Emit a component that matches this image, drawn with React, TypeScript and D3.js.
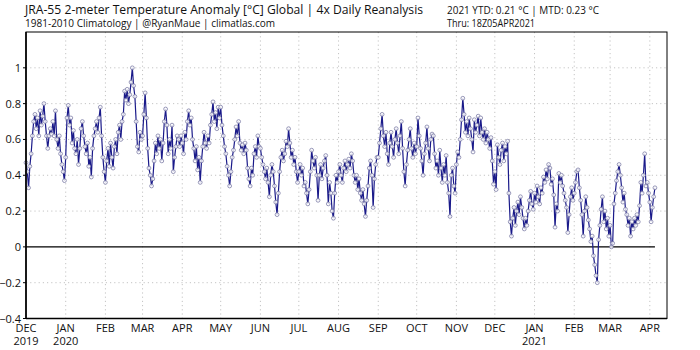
import React, { useEffect, useRef } from 'react';
import * as d3 from 'd3';

// daily global 2m temperature anomaly (°C), one array per month
const dec2019 = [0.47, 0.42, 0.33, 0.45, 0.52, 0.62, 0.70, 0.74, 0.66, 0.72, 0.62, 0.76, 0.68, 0.73, 0.80, 0.70, 0.62, 0.55, 0.62, 0.66, 0.63, 0.70, 0.62, 0.76, 0.60, 0.55, 0.62, 0.52, 0.46, 0.42, 0.37];
const jan2020 = [0.50, 0.72, 0.79, 0.68, 0.72, 0.58, 0.65, 0.55, 0.52, 0.60, 0.46, 0.55, 0.66, 0.70, 0.62, 0.56, 0.52, 0.58, 0.45, 0.50, 0.39, 0.55, 0.62, 0.66, 0.70, 0.64, 0.72, 0.78, 0.62, 0.50, 0.42];
const feb2020 = [0.36, 0.48, 0.55, 0.45, 0.58, 0.50, 0.44, 0.56, 0.60, 0.52, 0.64, 0.68, 0.60, 0.70, 0.74, 0.87, 0.82, 0.88, 0.80, 0.85, 0.92, 1.00, 0.90, 0.84, 0.70, 0.56, 0.53, 0.64, 0.60];
const mar2020 = [0.62, 0.74, 0.86, 0.72, 0.55, 0.44, 0.40, 0.34, 0.38, 0.48, 0.58, 0.52, 0.62, 0.55, 0.60, 0.48, 0.58, 0.70, 0.77, 0.68, 0.52, 0.60, 0.55, 0.68, 0.42, 0.50, 0.56, 0.62, 0.60, 0.56, 0.62];
const apr2020 = [0.58, 0.52, 0.64, 0.60, 0.70, 0.76, 0.68, 0.72, 0.60, 0.55, 0.48, 0.56, 0.43, 0.50, 0.36, 0.48, 0.56, 0.64, 0.58, 0.55, 0.62, 0.58, 0.68, 0.74, 0.81, 0.70, 0.75, 0.66, 0.78, 0.72];
const may2020 = [0.78, 0.68, 0.62, 0.56, 0.52, 0.45, 0.40, 0.34, 0.42, 0.50, 0.54, 0.60, 0.67, 0.62, 0.70, 0.58, 0.54, 0.57, 0.52, 0.58, 0.54, 0.44, 0.38, 0.34, 0.44, 0.40, 0.52, 0.56, 0.50, 0.62, 0.56];
const jun2020 = [0.55, 0.50, 0.46, 0.42, 0.38, 0.44, 0.36, 0.28, 0.40, 0.46, 0.42, 0.34, 0.25, 0.18, 0.30, 0.42, 0.50, 0.54, 0.48, 0.52, 0.59, 0.56, 0.66, 0.58, 0.50, 0.54, 0.46, 0.50, 0.42, 0.36];
const jul2020 = [0.42, 0.46, 0.40, 0.44, 0.34, 0.36, 0.30, 0.24, 0.32, 0.42, 0.54, 0.48, 0.44, 0.50, 0.40, 0.26, 0.40, 0.46, 0.38, 0.44, 0.48, 0.51, 0.40, 0.24, 0.36, 0.30, 0.20, 0.16, 0.30, 0.40, 0.36];
const aug2020 = [0.42, 0.46, 0.40, 0.36, 0.44, 0.48, 0.42, 0.46, 0.49, 0.44, 0.52, 0.48, 0.40, 0.36, 0.40, 0.32, 0.38, 0.30, 0.26, 0.32, 0.24, 0.17, 0.26, 0.34, 0.44, 0.48, 0.40, 0.22, 0.38, 0.46, 0.50];
const sep2020 = [0.50, 0.58, 0.66, 0.74, 0.62, 0.56, 0.64, 0.52, 0.46, 0.58, 0.64, 0.56, 0.50, 0.60, 0.66, 0.58, 0.52, 0.62, 0.70, 0.55, 0.42, 0.34, 0.46, 0.54, 0.60, 0.66, 0.55, 0.50, 0.58, 0.52];
const oct2020 = [0.56, 0.72, 0.62, 0.55, 0.48, 0.40, 0.52, 0.58, 0.67, 0.55, 0.48, 0.60, 0.63, 0.62, 0.52, 0.44, 0.48, 0.40, 0.54, 0.44, 0.36, 0.46, 0.40, 0.51, 0.36, 0.30, 0.17, 0.40, 0.44, 0.34, 0.30];
const nov2020 = [0.46, 0.53, 0.50, 0.60, 0.71, 0.83, 0.74, 0.64, 0.70, 0.62, 0.72, 0.66, 0.60, 0.53, 0.71, 0.64, 0.68, 0.73, 0.62, 0.72, 0.64, 0.60, 0.66, 0.58, 0.64, 0.60, 0.55, 0.61, 0.48, 0.35];
const dec2020 = [0.42, 0.32, 0.57, 0.50, 0.46, 0.54, 0.58, 0.48, 0.56, 0.52, 0.59, 0.30, 0.14, 0.06, 0.16, 0.22, 0.12, 0.20, 0.25, 0.18, 0.28, 0.22, 0.16, 0.10, 0.16, 0.12, 0.20, 0.26, 0.31, 0.24, 0.21];
const jan2021 = [0.30, 0.25, 0.34, 0.28, 0.24, 0.33, 0.30, 0.39, 0.36, 0.43, 0.38, 0.46, 0.44, 0.35, 0.38, 0.29, 0.11, 0.24, 0.20, 0.41, 0.36, 0.40, 0.34, 0.30, 0.26, 0.22, 0.08, 0.18, 0.28, 0.33, 0.26];
const feb2021 = [0.30, 0.36, 0.42, 0.43, 0.33, 0.26, 0.18, 0.06, 0.20, 0.28, 0.22, 0.15, 0.10, 0.03, 0.06, -0.05, -0.10, -0.16, -0.20, 0.04, 0.12, 0.21, 0.28, 0.14, 0.20, 0.10, 0.16, 0.06];
const mar2021 = [0.12, 0.00, 0.02, 0.24, 0.30, 0.37, 0.42, 0.46, 0.40, 0.33, 0.25, 0.30, 0.21, 0.18, 0.12, 0.16, 0.06, 0.14, 0.10, 0.16, 0.12, 0.18, 0.14, 0.23, 0.36, 0.30, 0.40, 0.52, 0.34, 0.36, 0.30];
const apr2021 = [0.25, 0.14, 0.22, 0.28, 0.33];

const monthly = [dec2019, jan2020, feb2020, mar2020, apr2020, may2020, jun2020, jul2020, aug2020, sep2020, oct2020, nov2020, dec2020, jan2021, feb2021, mar2021, apr2021];

const monthLabels = ['DEC', 'JAN', 'FEB', 'MAR', 'APR', 'MAY', 'JUN', 'JUL', 'AUG', 'SEP', 'OCT', 'NOV', 'DEC', 'JAN', 'FEB', 'MAR', 'APR'];
const yearLabels = ['2019', '2020', '', '', '', '', '', '', '', '', '', '', '', '2021', '', '', ''];
const yTicks = [-0.4, -0.2, 0, 0.2, 0.4, 0.6, 0.8, 1];

const title = 'JRA-55 2-meter Temperature Anomaly [°C] Global | 4x Daily Reanalysis';
const subtitle = '1981-2010 Climatology | @RyanMaue | climatlas.com';
const statsLine = '2021 YTD: 0.21 °C | MTD: 0.23 °C';
const thruLine = 'Thru: 18Z05APR2021';

const App = () => {
    const svgRef = useRef(null);

    useEffect(() => {
        const svg = d3.select(svgRef.current);
        svg.selectAll('*').remove();

        const font = '"Open Sans", "DejaVu Sans", sans-serif';
        const left = 26, right = 667, top = 32, bottom = 318.5;
        const start = new Date(Date.UTC(2019, 11, 1));

        // build daily series from monthly arrays
        const data = [];
        monthly.forEach((vals, m) => {
            const mStart = d3.utcMonth.offset(start, m);
            vals.forEach((v, i) => data.push({ date: d3.utcDay.offset(mStart, i), value: v }));
        });
        const monthStarts = monthLabels.map((_, i) => d3.utcMonth.offset(start, i));

        const x = d3.scaleUtc()
            .domain([start, new Date(Date.UTC(2021, 3, 14, 10))])
            .range([left, right]);
        const y = d3.scaleLinear().domain([-0.4, 1.2]).range([bottom, top]);

        svg.append('rect').attr('width', 700).attr('height', 350).attr('fill', 'white');

        // gridlines
        svg.append('g').selectAll('line')
            .data(yTicks.filter(t => t !== 0 && t !== -0.4))
            .enter().append('line')
            .attr('x1', left).attr('x2', right)
            .attr('y1', d => y(d)).attr('y2', d => y(d))
            .attr('stroke', '#c4c4c4').attr('stroke-dasharray', '1.2,3');
        svg.append('g').selectAll('line')
            .data(monthStarts.slice(1))
            .enter().append('line')
            .attr('x1', d => x(d)).attr('x2', d => x(d))
            .attr('y1', top).attr('y2', bottom)
            .attr('stroke', '#c4c4c4').attr('stroke-dasharray', '1.2,3');

        // zero line
        svg.append('line')
            .attr('x1', left).attr('x2', x(data[data.length - 1].date))
            .attr('y1', y(0)).attr('y2', y(0))
            .attr('stroke', 'black').attr('stroke-width', 1.3);

        // series
        const line = d3.line().x(d => x(d.date)).y(d => y(d.value));
        svg.append('path')
            .datum(data)
            .attr('d', line)
            .attr('fill', 'none')
            .attr('stroke', '#1a1a8a')
            .attr('stroke-width', 1.2);
        svg.append('g').selectAll('circle')
            .data(data)
            .enter().append('circle')
            .attr('cx', d => x(d.date))
            .attr('cy', d => y(d.value))
            .attr('r', 1.9)
            .attr('fill', 'white')
            .attr('fill-opacity', 0.8)
            .attr('stroke', '#6e6e9c')
            .attr('stroke-width', 0.7);

        // frame
        svg.append('rect')
            .attr('x', left).attr('y', top)
            .attr('width', right - left).attr('height', bottom - top)
            .attr('fill', 'none').attr('stroke', 'black').attr('stroke-width', 1);
        svg.append('line').attr('x1', left).attr('x2', left).attr('y1', top).attr('y2', bottom)
            .attr('stroke', 'black').attr('stroke-width', 1.6);
        svg.append('line').attr('x1', left).attr('x2', right).attr('y1', bottom).attr('y2', bottom)
            .attr('stroke', 'black').attr('stroke-width', 1.6);

        // y axis ticks and labels
        const yAxis = svg.append('g');
        yAxis.selectAll('line')
            .data(yTicks)
            .enter().append('line')
            .attr('x1', left - 3).attr('x2', left)
            .attr('y1', d => y(d)).attr('y2', d => y(d))
            .attr('stroke', 'black');
        yAxis.selectAll('text')
            .data(yTicks)
            .enter().append('text')
            .attr('x', left - 5)
            .attr('y', d => y(d) + 4)
            .attr('text-anchor', 'end')
            .attr('font-family', font)
            .attr('font-size', 11)
            .attr('fill', '#111')
            .text(d => (d === 0 ? '0' : d === 1 ? '1' : d3.format('.1f')(d).replace('-', '\u2212')));

        // x axis labels
        const xAxis = svg.append('g');
        xAxis.selectAll('.month')
            .data(monthStarts)
            .enter().append('text')
            .attr('x', d => x(d))
            .attr('y', 332)
            .attr('text-anchor', 'middle')
            .attr('font-family', font)
            .attr('font-size', 11)
            .attr('fill', '#111')
            .text((d, i) => monthLabels[i]);
        xAxis.selectAll('.year')
            .data(monthStarts)
            .enter().append('text')
            .attr('x', d => x(d))
            .attr('y', 345)
            .attr('text-anchor', 'middle')
            .attr('font-family', font)
            .attr('font-size', 11)
            .attr('fill', '#111')
            .text((d, i) => yearLabels[i]);

        // header
        svg.append('text').attr('x', 25).attr('y', 14)
            .attr('font-family', font).attr('font-size', 13).attr('fill', '#111')
            .attr('textLength', 398).attr('lengthAdjust', 'spacingAndGlyphs')
            .text(title);
        svg.append('text').attr('x', 25).attr('y', 27)
            .attr('font-family', font).attr('font-size', 10).attr('fill', '#111')
            .attr('textLength', 250).attr('lengthAdjust', 'spacingAndGlyphs')
            .text(subtitle);
        svg.append('text').attr('x', 447).attr('y', 14)
            .attr('font-family', font).attr('font-size', 10).attr('fill', '#111')
            .attr('textLength', 152).attr('lengthAdjust', 'spacingAndGlyphs')
            .text(statsLine);
        svg.append('text').attr('x', 447).attr('y', 27)
            .attr('font-family', font).attr('font-size', 10).attr('fill', '#111')
            .attr('textLength', 88).attr('lengthAdjust', 'spacingAndGlyphs')
            .text(thruLine);
    }, []);

    return (
        <svg ref={svgRef} width={700} height={350}
            style={{ position: 'absolute', left: 0, top: 0, display: 'block' }}></svg>
    );
};

export default App;
